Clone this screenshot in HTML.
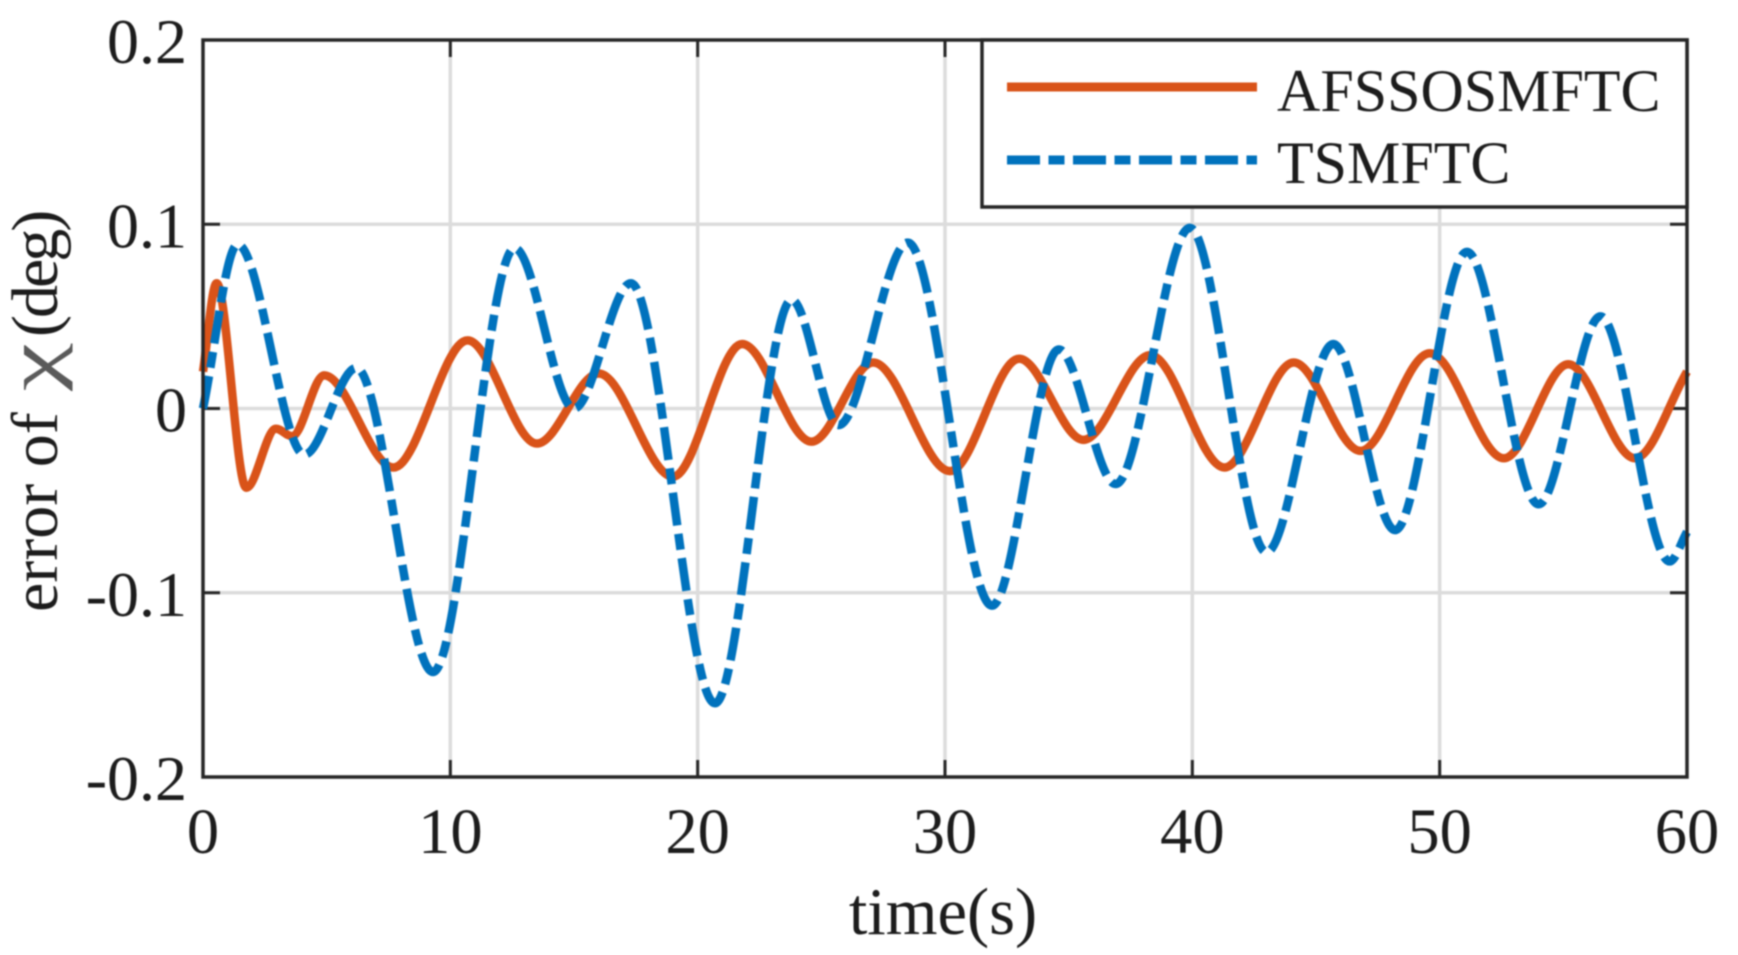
<!DOCTYPE html>
<html>
<head>
<meta charset="utf-8">
<style>
html,body{margin:0;padding:0;background:#fff;width:1738px;height:955px;overflow:hidden}
svg{display:block;filter:blur(0.8px)}
text{font-family:"Liberation Serif","DejaVu Serif",serif;fill:#1c1c1c}
</style>
</head>
<body>
<svg id="chart" width="1738" height="955" viewBox="0 0 1738 955" xmlns="http://www.w3.org/2000/svg"></svg>
<script>
const xTicks = [0, 10, 20, 30, 40, 50, 60];
const yTicks = [0.2, 0.1, 0, -0.1, -0.2];
const xTickLabels = ['0', '10', '20', '30', '40', '50', '60'];
const yTickLabels = ['0.2', '0.1', '0', '-0.1', '-0.2'];
const afssoTimes = [0, 0.55, 1.75, 2.95, 3.6, 4.9, 7.7, 10.7, 13.5, 16, 19, 21.8, 24.6, 27.1, 30.2, 33, 35.6, 38.3, 41.3, 44.1, 46.8, 49.6, 52.6, 55.2, 57.9, 60];
const afssoValues = [0.02, 0.068, -0.043, -0.011, -0.015, 0.018, -0.032, 0.037, -0.019, 0.019, -0.037, 0.035, -0.018, 0.025, -0.034, 0.027, -0.017, 0.029, -0.032, 0.025, -0.023, 0.03, -0.027, 0.024, -0.027, 0.02];
const tsmTimes = [0, 1.4, 4.1, 6.2, 9.3, 12.6, 15, 17.3, 20.7, 23.8, 25.7, 28.5, 31.9, 34.6, 36.9, 39.9, 43, 45.7, 48.2, 51.1, 54, 56.5, 59.3, 60];
const tsmValues = [0, 0.089, -0.025, 0.022, -0.143, 0.087, 0, 0.068, -0.16, 0.059, -0.009, 0.09, -0.107, 0.032, -0.041, 0.098, -0.078, 0.035, -0.066, 0.085, -0.052, 0.05, -0.083, -0.067];

const NS = 'http://www.w3.org/2000/svg';
const svg = document.getElementById('chart');
const plot = {left: 203, right: 1687, top: 40, bottom: 777};
const xMin = 0, xMax = 60, yMin = -0.2, yMax = 0.2;
const AXIS = '#262626', GRID = '#dcdcdc';

function sx(t) { return plot.left + (t - xMin) / (xMax - xMin) * (plot.right - plot.left); }
function sy(v) { return plot.bottom - (v - yMin) / (yMax - yMin) * (plot.bottom - plot.top); }

function make(tag, attrs, parent) {
  const el = document.createElementNS(NS, tag);
  for (const k in attrs) el.setAttribute(k, attrs[k]);
  (parent || svg).appendChild(el);
  return el;
}

function curvePath(ts, vs) {
  const n = ts.length;
  const secant = [];
  for (let i = 0; i < n - 1; i++) secant.push((vs[i + 1] - vs[i]) / (ts[i + 1] - ts[i]));
  const m = new Array(n).fill(0);
  m[0] = secant[0];
  m[n - 1] = secant[n - 2];
  for (let i = 1; i < n - 1; i++) {
    if (secant[i - 1] * secant[i] > 0) m[i] = (secant[i - 1] + secant[i]) / 2;
  }
  let d = 'M' + sx(ts[0]).toFixed(2) + ' ' + sy(vs[0]).toFixed(2);
  for (let i = 0; i < n - 1; i++) {
    const h = (ts[i + 1] - ts[i]) / 3;
    const c1t = ts[i] + h, c1v = vs[i] + m[i] * h;
    const c2t = ts[i + 1] - h, c2v = vs[i + 1] - m[i + 1] * h;
    d += 'C' + sx(c1t).toFixed(2) + ' ' + sy(c1v).toFixed(2) + ' ' + sx(c2t).toFixed(2) + ' ' + sy(c2v).toFixed(2) + ' ' + sx(ts[i + 1]).toFixed(2) + ' ' + sy(vs[i + 1]).toFixed(2);
  }
  return d;
}

// grid
xTicks.forEach(function (t) {
  if (t === xMin || t === xMax) return;
  const g = make('line', {x1: sx(t), x2: sx(t), y1: plot.top, y2: plot.bottom, stroke: GRID, 'stroke-width': 3.5});
  
  
});
yTicks.forEach(function (v) {
  if (v === yMin || v === yMax) return;
  const g = make('line', {x1: plot.left, x2: plot.right, y1: sy(v), y2: sy(v), stroke: GRID, 'stroke-width': 3.5});
  
  
});

// ticks
xTicks.forEach(function (t, i) {
  if (t === xMin || t === xMax) return;
  const a = make('line', {x1: sx(t), x2: sx(t), y1: plot.bottom, y2: plot.bottom - 17, stroke: AXIS, 'stroke-width': 3});
  
  
  const b = make('line', {x1: sx(t), x2: sx(t), y1: plot.top, y2: plot.top + 17, stroke: AXIS, 'stroke-width': 3});
  
  
});
yTicks.forEach(function (v) {
  if (v === yMin || v === yMax) return;
  const a = make('line', {x1: plot.left, x2: plot.left + 17, y1: sy(v), y2: sy(v), stroke: AXIS, 'stroke-width': 3});
  
  
  const b = make('line', {x1: plot.right, x2: plot.right - 17, y1: sy(v), y2: sy(v), stroke: AXIS, 'stroke-width': 3});
  
  
});

// series
const afssoLine = make('path', {d: curvePath(afssoTimes, afssoValues), fill: 'none', stroke: '#d95319', 'stroke-width': 8.5, 'stroke-linejoin': 'round'});


const tsmLine = make('path', {d: curvePath(tsmTimes, tsmValues), fill: 'none', stroke: '#0072bd', 'stroke-width': 8.5, 'stroke-dasharray': '33 8.5 16 8.5', 'stroke-linejoin': 'round'});



// plot frame
const frame = make('rect', {x: plot.left, y: plot.top, width: plot.right - plot.left, height: plot.bottom - plot.top, fill: 'none', stroke: AXIS, 'stroke-width': 3.5});



// tick labels
xTicks.forEach(function (t, i) {
  const l = make('text', {x: sx(t), y: 853, 'text-anchor': 'middle', 'font-size': 64.5});
  l.textContent = xTickLabels[i];
  
  
});
yTicks.forEach(function (v, i) {
  const l = make('text', {x: 187, y: sy(v) + 23, 'text-anchor': 'end', 'font-size': 64});
  l.textContent = yTickLabels[i];
  
  
});

// axis titles
const xTitle = make('text', {x: 943, y: 934, 'text-anchor': 'middle', 'font-size': 66.5});
xTitle.textContent = 'time(s)';


const yTitle = make('text', {transform: 'translate(57 612) rotate(-90)', 'font-size': 66});


const yTitleWords = make('tspan', {x: 0}, yTitle);
yTitleWords.textContent = 'error of';
const yTitleUnit = make('tspan', {x: 275, 'letter-spacing': -3}, yTitle);
yTitleUnit.textContent = '(deg)';
const yTitleChi = make('text', {transform: 'translate(57 391) rotate(-90) scale(1.5 1)', 'font-size': 72, style: 'fill:#5a5a5a'});
yTitleChi.textContent = 'χ';



// legend
const legend = make('g', {});


const legendBox = make('rect', {x: 982, y: 40, width: 705, height: 167, fill: '#fff', stroke: AXIS, 'stroke-width': 3.5}, legend);


const key1 = make('line', {x1: 1007, x2: 1257, y1: 87, y2: 87, stroke: '#d95319', 'stroke-width': 9}, legend);


const key2 = make('line', {x1: 1007, x2: 1257, y1: 160, y2: 160, stroke: '#0072bd', 'stroke-width': 9, 'stroke-dasharray': '33 8.5 16 8.5'}, legend);


const label1 = make('text', {x: 1277, y: 111, 'font-size': 60}, legend);
label1.textContent = 'AFSSOSMFTC';


const label2 = make('text', {x: 1277, y: 183, 'font-size': 60}, legend);
label2.textContent = 'TSMFTC';


</script>
</body>
</html>
